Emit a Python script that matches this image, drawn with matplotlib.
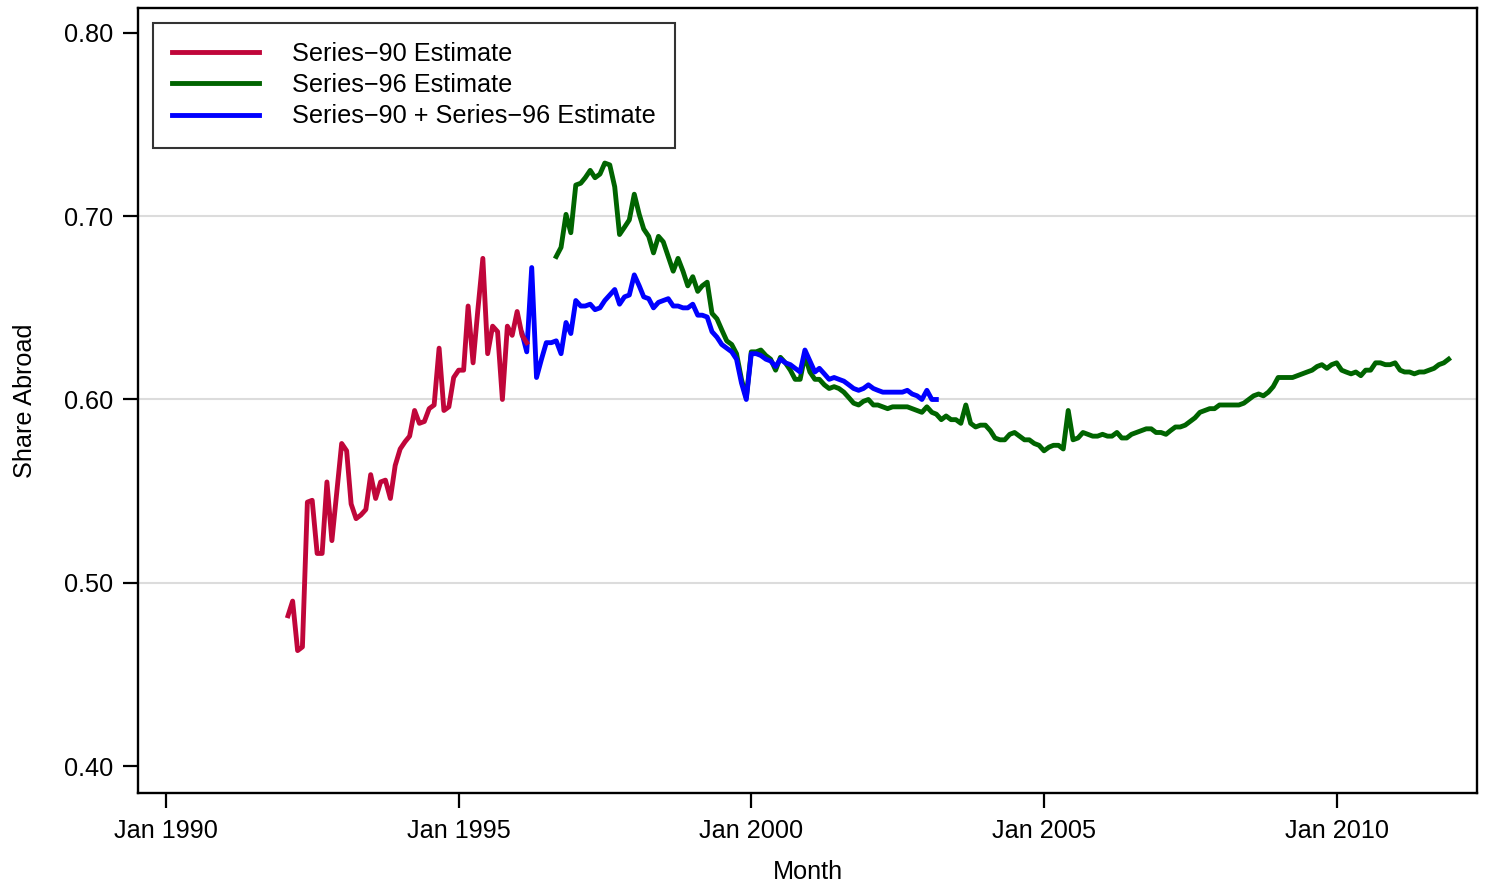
import numpy as np
import pandas as pd
import matplotlib
matplotlib.use("Agg")
import matplotlib.pyplot as plt
import matplotlib.dates as mdates

plt.rcParams['font.family'] = ['Liberation Sans', 'DejaVu Sans']

# Monthly estimates of the share held abroad
start_90 = '1992-02-01'
series_90 = [0.482, 0.490, 0.463, 0.465, 0.544, 0.545, 0.516, 0.516, 0.555, 0.523,
             0.549, 0.576, 0.572, 0.543, 0.535, 0.537, 0.540, 0.559, 0.546, 0.555,
             0.556, 0.546, 0.564, 0.573, 0.577, 0.580, 0.594, 0.587, 0.588, 0.595,
             0.597, 0.628, 0.594, 0.596, 0.612, 0.616, 0.616, 0.651, 0.620, 0.649,
             0.677, 0.625, 0.640, 0.637, 0.600, 0.640, 0.635, 0.648, 0.635, 0.631]

start_96 = '1996-09-01'
series_96 = [0.678, 0.683, 0.701, 0.691, 0.717, 0.718, 0.721, 0.725, 0.721, 0.723,
             0.729, 0.728, 0.716, 0.690, 0.694, 0.698, 0.712, 0.701, 0.693, 0.689,
             0.680, 0.689, 0.686, 0.678, 0.670, 0.677, 0.670, 0.662, 0.667, 0.659,
             0.662, 0.664, 0.647, 0.644, 0.638, 0.632, 0.630, 0.625, 0.611, 0.601,
             0.626, 0.626, 0.627, 0.624, 0.622, 0.616, 0.623, 0.620, 0.616, 0.611,
             0.611, 0.624, 0.615, 0.611, 0.611, 0.608, 0.606, 0.607, 0.606, 0.604,
             0.601, 0.598, 0.597, 0.599, 0.600, 0.597, 0.597, 0.596, 0.595, 0.596,
             0.596, 0.596, 0.596, 0.595, 0.594, 0.593, 0.596, 0.593, 0.592, 0.589,
             0.591, 0.589, 0.589, 0.587, 0.597, 0.587, 0.585, 0.586, 0.586, 0.583,
             0.579, 0.578, 0.578, 0.581, 0.582, 0.580, 0.578, 0.578, 0.576, 0.575,
             0.572, 0.574, 0.575, 0.575, 0.573, 0.594, 0.578, 0.579, 0.582, 0.581,
             0.580, 0.580, 0.581, 0.580, 0.580, 0.582, 0.579, 0.579, 0.581, 0.582,
             0.583, 0.584, 0.584, 0.582, 0.582, 0.581, 0.583, 0.585, 0.585, 0.586,
             0.588, 0.590, 0.593, 0.594, 0.595, 0.595, 0.597, 0.597, 0.597, 0.597,
             0.597, 0.598, 0.600, 0.602, 0.603, 0.602, 0.604, 0.607, 0.612, 0.612,
             0.612, 0.612, 0.613, 0.614, 0.615, 0.616, 0.618, 0.619, 0.617, 0.619,
             0.620, 0.616, 0.615, 0.614, 0.615, 0.613, 0.616, 0.616, 0.620, 0.620,
             0.619, 0.619, 0.620, 0.616, 0.615, 0.615, 0.614, 0.615, 0.615, 0.616,
             0.617, 0.619, 0.620, 0.622]

start_both = '1996-02-01'
series_both = [0.636, 0.626, 0.672, 0.612, 0.622, 0.631, 0.631, 0.632, 0.625, 0.642,
               0.636, 0.654, 0.651, 0.651, 0.652, 0.649, 0.650, 0.654, 0.657, 0.660,
               0.652, 0.656, 0.657, 0.668, 0.662, 0.656, 0.655, 0.650, 0.653, 0.654,
               0.655, 0.651, 0.651, 0.650, 0.650, 0.652, 0.646, 0.646, 0.645, 0.637,
               0.634, 0.630, 0.628, 0.626, 0.622, 0.609, 0.600, 0.625, 0.625, 0.624,
               0.622, 0.621, 0.618, 0.622, 0.620, 0.619, 0.617, 0.615, 0.627, 0.621,
               0.615, 0.617, 0.614, 0.611, 0.612, 0.611, 0.610, 0.608, 0.606, 0.605,
               0.606, 0.608, 0.606, 0.605, 0.604, 0.604, 0.604, 0.604, 0.604, 0.605,
               0.603, 0.602, 0.600, 0.605, 0.600, 0.600]

labels = ['Series\u221290 Estimate', 'Series\u221296 Estimate',
          'Series\u221290 + Series\u221296 Estimate']
colors = ['#C0063A', '#006400', '#0000FF']

tick_years = [1990, 1995, 2000, 2005, 2010]
y_ticks = [0.40, 0.50, 0.60, 0.70, 0.80]


def months(start, values):
    return pd.date_range(start, periods=len(values), freq='MS')


fs = 18.2

fig = plt.figure(figsize=(14.86, 8.88), dpi=100)
ax = fig.add_axes([138 / 1486, 1 - 793 / 888, (1477 - 138) / 1486, (793 - 8) / 888])

for y in [0.50, 0.60, 0.70]:
    ax.axhline(y, color='#DCDCDC', lw=1.5, zorder=0)

l96, = ax.plot(months(start_96, series_96), series_96, color=colors[1], lw=3.5, zorder=2)
lboth, = ax.plot(months(start_both, series_both), series_both, color=colors[2], lw=3.5, zorder=3)
l90, = ax.plot(months(start_90, series_90), series_90, color=colors[0], lw=3.5, zorder=4)

ax.set_xlim(pd.Timestamp('1989-07-10'), pd.Timestamp('2012-05-26'))
ax.set_ylim(0.3853, 0.8136)

ax.set_xticks([pd.Timestamp(f'{y}-01-01') for y in tick_years])
ax.xaxis.set_major_formatter(mdates.DateFormatter('Jan %Y'))
ax.set_yticks(y_ticks)
ax.set_yticklabels([f'{v:.2f}' for v in y_ticks])

ax.tick_params(axis='both', direction='out', length=11, width=1.6,
               labelsize=fs, color='black')
ax.tick_params(axis='y', pad=7)
ax.tick_params(axis='x', pad=8)
for s in ax.spines.values():
    s.set_linewidth(1.7)
    s.set_color('black')

ax.set_xlabel('Month', fontsize=fs, labelpad=12)
ax.set_ylabel('Share Abroad', fontsize=fs, labelpad=19)

leg = ax.legend([l90, l96, lboth], labels, loc='upper left',
                bbox_to_anchor=(153 / 1486, 1 - 23 / 888), bbox_transform=fig.transFigure,
                fontsize=fs, frameon=True, fancybox=False, handlelength=3.45,
                handletextpad=1.3, labelspacing=0.28, borderpad=0.76, borderaxespad=0)
leg.get_frame().set_edgecolor('black')
leg.get_frame().set_linewidth(1.5)

fig.savefig('out.png', dpi=100)
